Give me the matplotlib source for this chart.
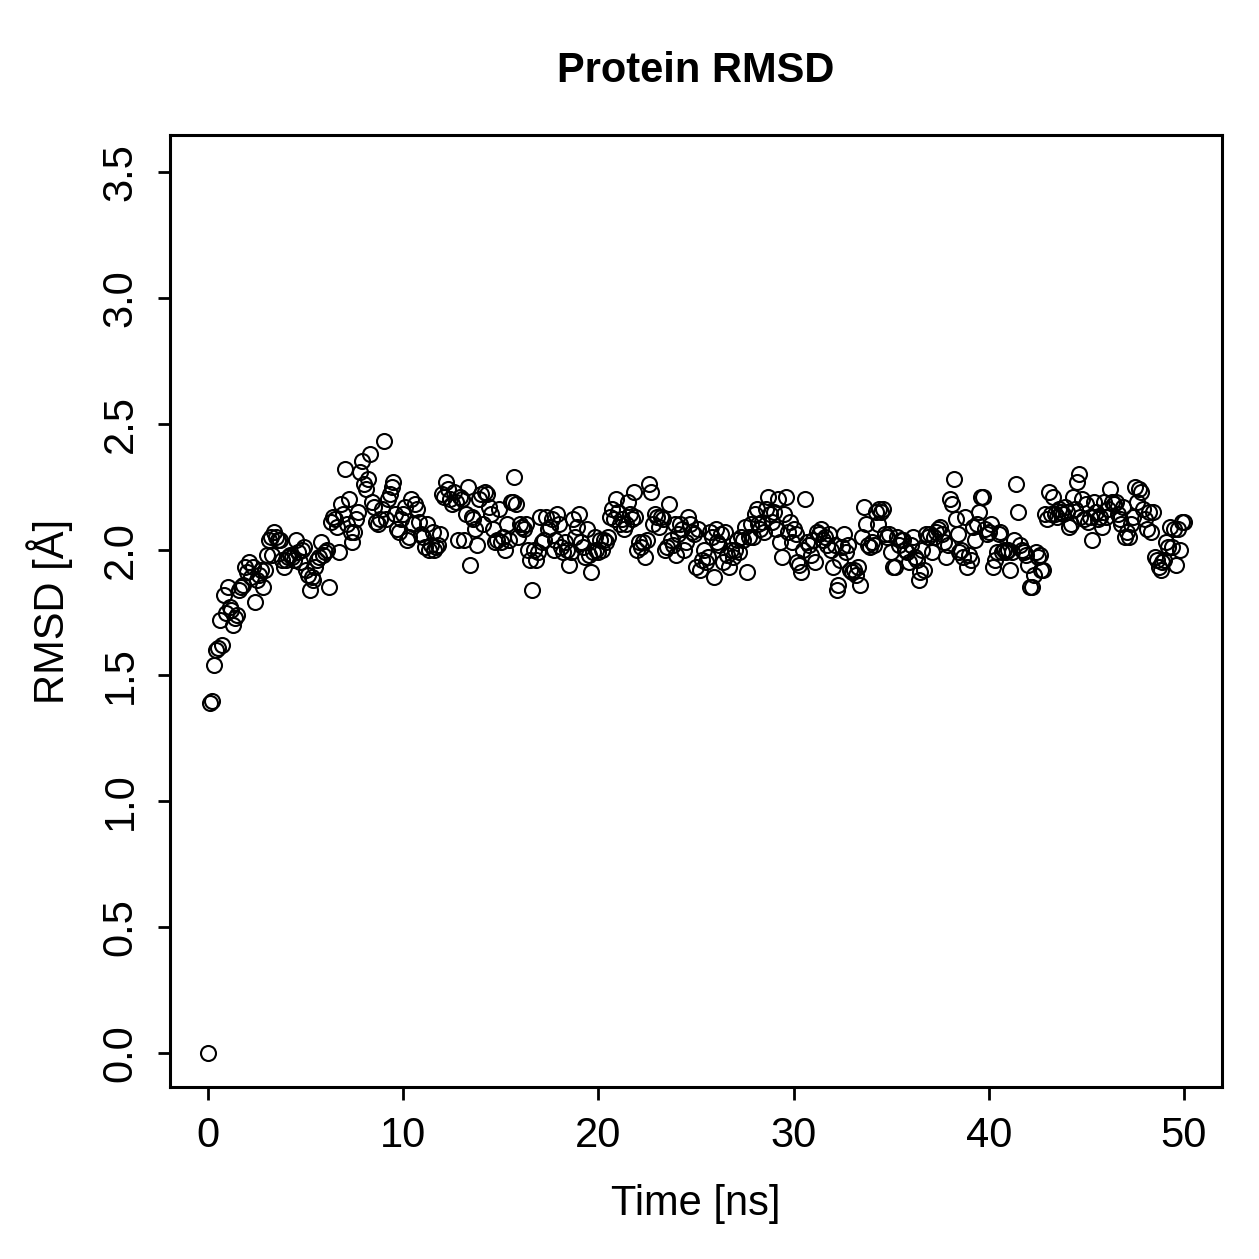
import numpy as np
import matplotlib
matplotlib.use('Agg')
import matplotlib.pyplot as plt

# RMSD every 0.1 ns (one row = 1 ns)
rmsd = [
    0.00, 1.39, 1.40, 1.54, 1.60, 1.61, 1.72, 1.62, 1.82, 1.75,
    1.85, 1.77, 1.76, 1.70, 1.73, 1.74, 1.84, 1.85, 1.86, 1.93,
    1.91, 1.95, 1.89, 1.93, 1.79, 1.88, 1.90, 1.92, 1.85, 1.92,
    1.98, 2.04, 2.05, 1.98, 2.07, 2.05, 2.04, 2.04, 1.96, 1.93,
    1.96, 1.97, 1.98, 1.97, 1.96, 2.04, 1.99, 1.95, 2.00, 2.01,
    1.92, 1.90, 1.84, 1.89, 1.88, 1.93, 1.96, 1.97, 2.03, 1.98,
    1.99, 2.00, 1.85, 2.11, 2.13, 2.12, 2.09, 1.99, 2.18, 2.14,
    2.32, 2.10, 2.20, 2.07, 2.03, 2.07, 2.12, 2.15, 2.31, 2.35,
    2.26, 2.24, 2.28, 2.38, 2.19, 2.17, 2.11, 2.10, 2.12, 2.16,
    2.43, 2.12, 2.20, 2.22, 2.25, 2.27, 2.14, 2.08, 2.07, 2.12,
    2.14, 2.17, 2.04, 2.05, 2.20, 2.10, 2.18, 2.16, 2.11, 2.06,
    2.05, 2.01, 2.10, 2.00, 2.02, 2.07, 2.00, 2.01, 2.02, 2.06,
    2.22, 2.21, 2.27, 2.24, 2.20, 2.18, 2.23, 2.19, 2.04, 2.21,
    2.20, 2.04, 2.14, 2.25, 1.94, 2.13, 2.12, 2.08, 2.02, 2.20,
    2.22, 2.10, 2.23, 2.22, 2.17, 2.14, 2.08, 2.03, 2.04, 2.16,
    2.03, 2.05, 2.00, 2.10, 2.04, 2.19, 2.19, 2.29, 2.18, 2.05,
    2.10, 2.09, 2.08, 2.10, 2.00, 1.96, 1.84, 2.00, 1.96, 1.99,
    2.13, 2.03, 2.04, 2.13, 2.08, 2.09, 2.12, 2.00, 2.04, 2.14,
    2.10, 2.01, 1.99, 2.03, 2.00, 1.94, 1.99, 2.12, 2.05, 2.09,
    2.14, 2.03, 2.01, 1.97, 2.08, 1.98, 1.91, 1.99, 2.05, 2.00,
    1.99, 2.04, 2.00, 2.04, 2.03, 2.05, 2.13, 2.16, 2.12, 2.20,
    2.15, 2.10, 2.12, 2.08, 2.10, 2.19, 2.14, 2.12, 2.23, 2.13,
    2.00, 2.03, 2.01, 2.03, 1.97, 2.04, 2.26, 2.23, 2.10, 2.14,
    2.13, 2.09, 2.13, 2.12, 2.00, 2.01, 2.18, 2.04, 2.02, 2.10,
    1.98, 2.06, 2.10, 2.08, 2.00, 2.03, 2.13, 2.10, 2.07, 2.06,
    1.93, 2.08, 1.92, 1.96, 2.00, 1.95, 1.97, 2.07, 2.05, 1.89,
    2.08, 2.03, 2.02, 2.06, 1.95, 2.07, 1.98, 1.93, 2.00, 1.97,
    2.00, 2.04, 1.99, 2.05, 2.04, 2.09, 1.91, 2.05, 2.10, 2.05,
    2.14, 2.16, 2.10, 2.08, 2.11, 2.07, 2.16, 2.21, 2.14, 2.11,
    2.15, 2.08, 2.20, 2.03, 1.97, 2.14, 2.21, 2.07, 2.11, 2.03,
    2.08, 2.06, 1.95, 1.94, 1.91, 2.00, 2.20, 2.03, 2.02, 1.98,
    2.04, 1.95, 2.07, 2.06, 2.08, 2.04, 2.05, 2.02, 2.06, 2.00,
    1.93, 2.02, 1.84, 1.86, 1.96, 2.01, 2.06, 1.99, 2.02, 1.92,
    1.91, 1.92, 1.90, 1.93, 1.86, 2.05, 2.17, 2.10, 2.02, 2.01,
    2.03, 2.02, 2.15, 2.10, 2.16, 2.15, 2.16, 2.06, 2.05, 2.06,
    1.99, 1.93, 1.93, 2.05, 2.02, 2.04, 2.04, 2.00, 1.99, 1.95,
    2.02, 2.05, 1.97, 1.96, 1.88, 1.91, 2.00, 1.92, 2.06, 2.05,
    2.06, 1.99, 2.05, 2.07, 2.08, 2.09, 2.06, 2.03, 1.97, 2.02,
    2.20, 2.18, 2.28, 2.12, 2.06, 1.99, 2.00, 1.97, 2.13, 1.93,
    1.98, 1.96, 2.09, 2.04, 2.10, 2.15, 2.21, 2.21, 2.08, 2.06,
    2.07, 2.10, 1.93, 1.96, 1.99, 2.06, 2.07, 1.99, 2.00, 1.99,
    2.00, 1.92, 1.99, 2.04, 2.26, 2.15, 2.02, 2.00, 1.99, 1.98,
    1.94, 1.85, 1.85, 1.90, 1.99, 1.97, 1.98, 1.92, 1.92, 2.14,
    2.12, 2.23, 2.14, 2.21, 2.14, 2.13, 2.16, 2.15, 2.14, 2.17,
    2.15, 2.09, 2.10, 2.21, 2.16, 2.27, 2.30, 2.13, 2.20, 2.12,
    2.18, 2.11, 2.13, 2.04, 2.19, 2.15, 2.12, 2.13, 2.09, 2.19,
    2.13, 2.16, 2.24, 2.19, 2.18, 2.19, 2.14, 2.12, 2.10, 2.17,
    2.05, 2.07, 2.05, 2.10, 2.13, 2.25, 2.19, 2.24, 2.23, 2.16,
    2.12, 2.08, 2.15, 2.07, 2.15, 1.97, 1.96, 1.93, 1.92, 1.95,
    1.96, 2.03, 2.01, 2.09, 2.01, 2.08, 1.94, 2.08, 2.00, 2.11,
    2.11,
]
time_ns = np.arange(len(rmsd)) * 0.1

xticks = [0, 10, 20, 30, 40, 50]
yticks = [0.0, 0.5, 1.0, 1.5, 2.0, 2.5, 3.0, 3.5]

plt.rcParams['font.family'] = ['Liberation Sans', 'DejaVu Sans']

fig = plt.figure(figsize=(1259/200, 1259/200), dpi=200)
ax = fig.add_axes([170/1259, 1-1087/1259, (1222-170)/1259, (1087-135)/1259])

ax.plot(time_ns, rmsd, linestyle='none', marker='o', markersize=5.4,
        markerfacecolor='none', markeredgecolor='black', markeredgewidth=0.75)

ax.set_xlim(-1.95, 51.95)
ax.set_ylim(-0.135, 3.647)
ax.set_xticks(xticks)
ax.set_xticklabels([str(v) for v in xticks])
ax.set_yticks(yticks)
ax.set_yticklabels(['%.1f' % v for v in yticks], rotation=90, va='center')

for s in ax.spines.values():
    s.set_linewidth(1.1)
ax.tick_params(direction='out', length=4.5, width=1.0, labelsize=15, pad=6)

ax.set_xlabel('Time [ns]', fontsize=15, labelpad=10)
ax.set_ylabel('RMSD [Å]', fontsize=15, labelpad=10)
ax.set_title('Protein RMSD', fontsize=15, fontweight='bold', pad=19)

fig.savefig('out.png', dpi=200)
